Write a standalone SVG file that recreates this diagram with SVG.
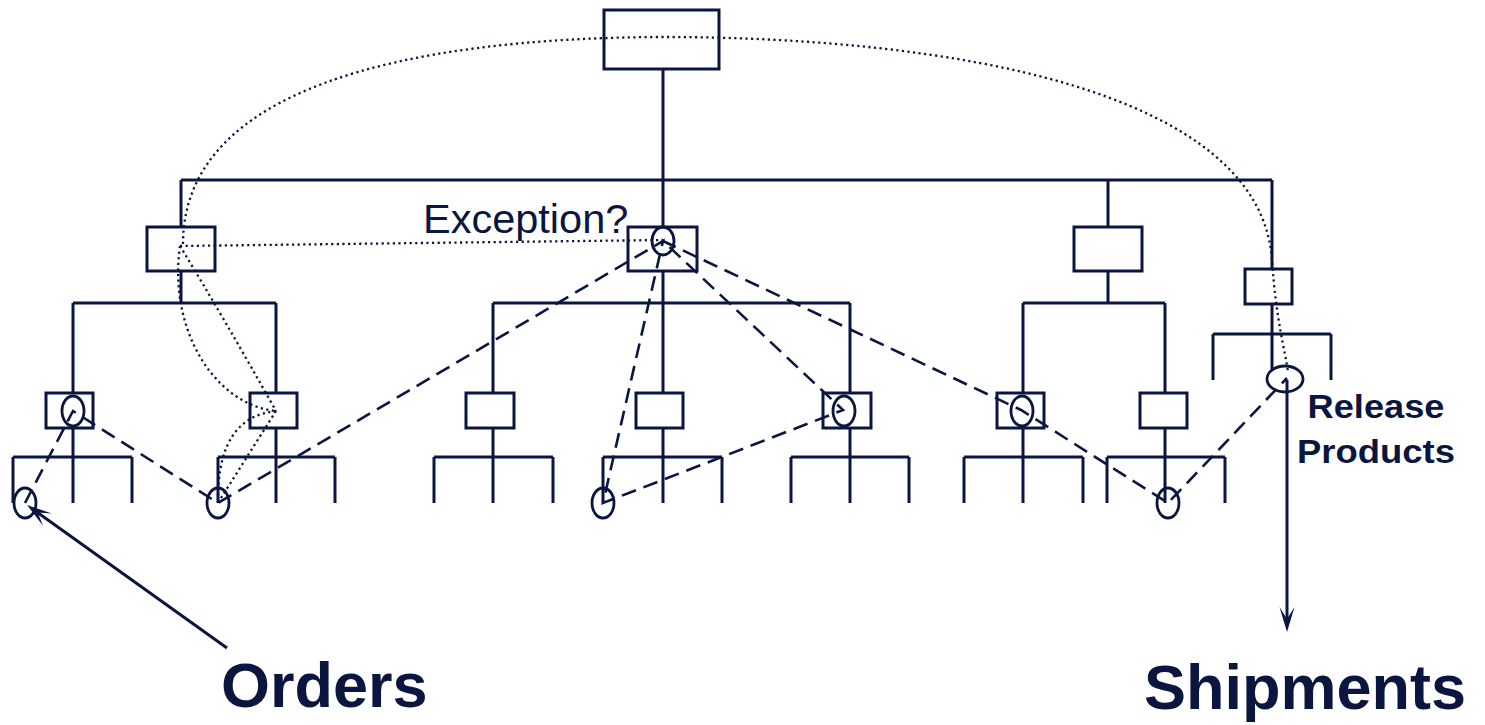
<svg xmlns="http://www.w3.org/2000/svg" width="1485" height="725" viewBox="0 0 1485 725">
<style>
.ln{fill:none;stroke:#0b1640;stroke-width:3;stroke-linecap:butt}
.bx{fill:#ffffff;stroke:#0b1640;stroke-width:3}
.el{fill:none;stroke:#0b1640;stroke-width:2.8}
.da{fill:none;stroke:#0b1640;stroke-width:2.6;stroke-dasharray:15 8}
.do{fill:none;stroke:#0b1640;stroke-width:2.3;stroke-dasharray:2.2 3.4}
.ar{fill:none;stroke:#0b1640;stroke-width:3}
.t{fill:#0b1640;font-family:"Liberation Sans",Arial,sans-serif}
</style>
<defs>
<marker id="ah" viewBox="-27 -9 29 18" refX="-12" refY="0" markerWidth="29" markerHeight="18" markerUnits="userSpaceOnUse" orient="auto">
<path d="M0,0 L-25,-7.5 L-13,0 L-25,7.5 Z" fill="#0b1640"/>
</marker>
</defs>
<g id="tree-lines">
<path class="ln" d="M663 69V227M181 180H1272M181 180V227M181 271V303M1108 180V227M1108 271V303M1272 180V269M1272 304V370M663 271V303"/>
<path class="ln" d="M73 303H276M493 303H850M1023 303H1165M1213 334H1331"/>
<path class="ln" d="M73 303V393M276 303V393M493 303V393M663 303V393M850 303V393M1023 303V393M1165 303V393M1213 334V380M1331 334V380"/>
<path class="ln" d="M73 428V503M276 428V503M493 428V503M663 428V503M850 428V503M1023 428V503M1165 428V503"/>
<path class="ln" d="M13 457H132M13 457V503M132 457V503M218 457H335M218 457V503M335 457V503M434 457H553M434 457V503M553 457V503M603 457H722M603 457V503M722 457V503M791 457H909M791 457V503M909 457V503M964 457H1083M964 457V503M1083 457V503M1107 457H1225M1107 457V503M1225 457V503"/>
</g>
<g id="node-top"><rect class="bx" x="604" y="10" width="115" height="59"/></g>
<g id="node-l2-left"><rect class="bx" x="147" y="227" width="68" height="44"/></g>
<g id="node-l2-center"><rect class="bx" x="628" y="227" width="69" height="44"/></g>
<g id="node-l2-right"><rect class="bx" x="1074" y="227" width="68" height="44"/></g>
<g id="node-l2-far"><rect class="bx" x="1245" y="269" width="47" height="35"/></g>
<g id="node-l3-1"><rect class="bx" x="46" y="393" width="47" height="35"/></g>
<g id="node-l3-2"><rect class="bx" x="250" y="393" width="47" height="35"/></g>
<g id="node-l3-3"><rect class="bx" x="466" y="393" width="48" height="35"/></g>
<g id="node-l3-4"><rect class="bx" x="636" y="393" width="47" height="35"/></g>
<g id="node-l3-5"><rect class="bx" x="823" y="393" width="48" height="35"/></g>
<g id="node-l3-6"><rect class="bx" x="997" y="393" width="47" height="35"/></g>
<g id="node-l3-7"><rect class="bx" x="1140" y="393" width="47" height="35"/></g>
<g id="ellipses">
<ellipse class="el" cx="73" cy="411" rx="11" ry="15"/>
<ellipse class="el" cx="25" cy="503" rx="11" ry="15"/>
<ellipse class="el" cx="218" cy="503" rx="11" ry="15"/>
<ellipse class="el" cx="663" cy="241" rx="11" ry="14"/>
<ellipse class="el" cx="603" cy="503" rx="11" ry="15"/>
<ellipse class="el" cx="844" cy="411" rx="11" ry="15"/>
<ellipse class="el" cx="1022" cy="411" rx="11" ry="15"/>
<ellipse class="el" cx="1168" cy="503" rx="11" ry="15"/>
<ellipse class="el" cx="1285" cy="379" rx="18" ry="13"/>
</g>
<g id="connectors">
<path class="da" d="M25 503L73 411L218 503L663 241L603 503L843 410L663 241L1021 410L1168 503L1287 378"/>
<path class="do" d="M183 244C183 90 400 38 662 37C950 37 1260 90 1272 260C1276 320 1285 350 1288 372"/>
<path class="do" d="M180 246C168 330 215 405 276 411"/>
<path class="do" d="M180 246L663 240"/>
<path class="do" d="M180 246Q225 320 276 411"/>
<path class="do" d="M276 411C240 415 218 440 218 500"/>
<path class="do" d="M276 411L221 498"/>
<path class="ar" d="M227 648L36.8 512" marker-end="url(#ah)"/>
<path class="ar" d="M1287 380V620" marker-end="url(#ah)"/>
</g>
<g id="labels">
<text class="t" x="423" y="233" font-size="41.5">Exception?</text>
<text class="t" x="1376" y="418" font-size="33" font-weight="bold" text-anchor="middle" textLength="137" lengthAdjust="spacingAndGlyphs">Release</text>
<text class="t" x="1376" y="463" font-size="33" font-weight="bold" text-anchor="middle" textLength="158" lengthAdjust="spacingAndGlyphs">Products</text>
<text class="t" x="221" y="707" font-size="63" font-weight="bold">Orders</text>
<text class="t" x="1144" y="709" font-size="63" font-weight="bold">Shipments</text>
</g>
</svg>
